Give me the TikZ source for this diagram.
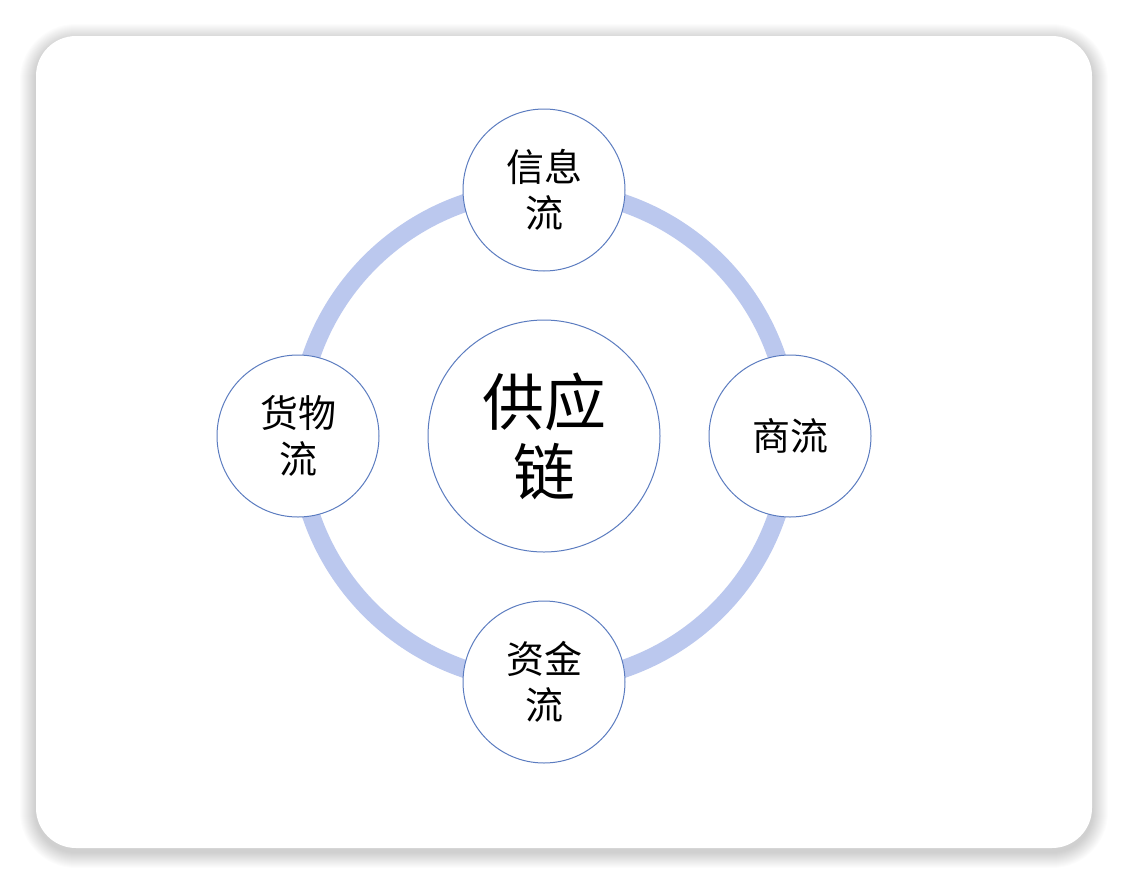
\documentclass[tikz,border=0pt]{standalone}
\usepackage{fontspec}
\newfontfamily\cjk{Noto Sans CJK SC}
\usetikzlibrary{positioning}
\definecolor{ringblue}{HTML}{BBC8EE}
\definecolor{edgeblue}{HTML}{5B7CC0}
\begin{document}
\begin{tikzpicture}[x=1pt,y=-1pt]

% definitions
\tikzset{flow/.style={circle, minimum size=162pt, inner sep=0pt, draw=edgeblue, line width=1pt, fill=white, font=\cjk\fontsize{38}{46}\selectfont, align=center}}
\tikzset{core/.style={flow, minimum size=232pt, font=\cjk\fontsize{62}{70}\selectfont}}

\useasboundingbox (0,0) rectangle (1128,884);

% card with shadow
\foreach \s in {1,2,...,16}
  \fill[black, opacity=0.012, rounded corners=40pt+\s pt] (36-\s,36-\s+4) rectangle (1092+\s,848+\s+4);
\fill[white, rounded corners=40pt] (36,36) rectangle (1092,848);

% ring
\coordinate (c) at (544,436);
\draw[ringblue, line width=18pt] (c) circle[radius=246];

% nodes
\node (sc) [core] at (c) {供应\\链};
\node (info) [flow] at (544,190) {信息\\流};
\node (trade) [flow] at (790,436) {商流};
\node (fund) [flow] at (544,682) {资金\\流};
\node (goods) [flow] at (298,436) {货物\\流};

\end{tikzpicture}
\end{document}
